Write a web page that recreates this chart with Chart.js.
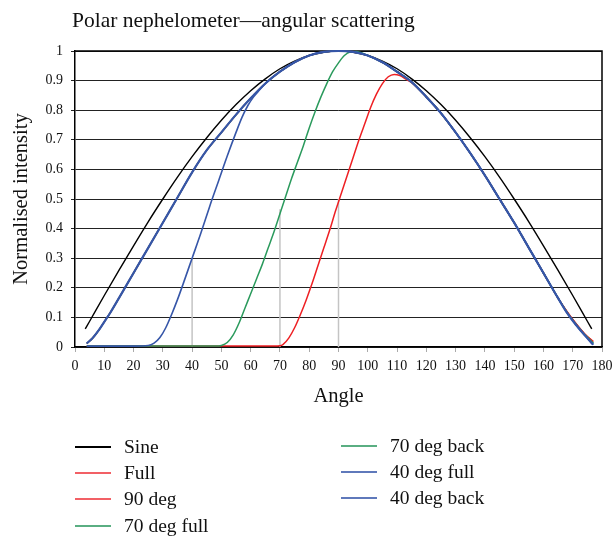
<!DOCTYPE html>
<html><head><meta charset="utf-8">
<script src="https://cdn.jsdelivr.net/npm/chart.js@4.4.1/dist/chart.umd.min.js"></script>
<style>
html,body{margin:0;padding:0;background:#fff;}
#wrap{position:relative;width:613px;height:538px;overflow:hidden;font-family:'Liberation Serif','Times New Roman',serif;color:#111;}
#c{position:absolute;left:0;top:0;}
#title{position:absolute;left:72px;top:7px;font-size:21.5px;line-height:26px;white-space:nowrap;}
.lg{position:absolute;height:26px;display:flex;align-items:center;font-size:19.5px;white-space:nowrap;}
.lg .sw{display:inline-block;width:36px;height:2px;margin-right:13px;}
</style></head>
<body><div id="wrap"><canvas id="c" width="613" height="538"></canvas><div id="title">Polar nephelometer—angular scattering</div><div id="legend"></div></div>
<script>
// ---- data ----
const xTicks = [0,10,20,30,40,50,60,70,80,90,100,110,120,130,140,150,160,170,180];
const yTicks = [0,0.1,0.2,0.3,0.4,0.5,0.6,0.7,0.8,0.9,1];
const yTickLabels = ['0','0.1','0.2','0.3','0.4','0.5','0.6','0.7','0.8','0.9','1'];

const sineAngle = [3.5,5,10,15,20,25,30,35,40,45,50,55,60,65,70,75,80,85,90,95,100,105,110,115,120,125,130,135,140,145,150,155,160,165,170,175,176.5];
const sineValue = [0.061,0.087,0.174,0.259,0.342,0.423,0.5,0.574,0.643,0.707,0.766,0.819,0.866,0.906,0.94,0.966,0.985,0.996,1,0.996,0.985,0.966,0.94,0.906,0.866,0.819,0.766,0.707,0.643,0.574,0.5,0.423,0.342,0.259,0.174,0.087,0.061];

const commonAngle = [4,6,8,10,12,15,20,25,30,35,40,45,50,55,60,65,70,75,80,85,90,95,100,105,110,115,120,125,130,135,140,145,150,155,160,165,168,171,174,177];
const fullValue     = [0.012,0.03,0.055,0.085,0.115,0.165,0.25,0.335,0.42,0.505,0.59,0.665,0.725,0.785,0.84,0.89,0.93,0.962,0.985,0.997,1.0,0.997,0.985,0.962,0.93,0.895,0.845,0.79,0.725,0.655,0.58,0.5,0.42,0.335,0.25,0.165,0.12,0.08,0.045,0.018];
const deg70BackValue= [0.012,0.03,0.055,0.085,0.115,0.165,0.25,0.335,0.42,0.505,0.59,0.665,0.725,0.785,0.84,0.89,0.93,0.962,0.985,0.997,1.0,0.997,0.985,0.962,0.93,0.895,0.845,0.79,0.725,0.655,0.58,0.5,0.42,0.335,0.25,0.165,0.118,0.078,0.043,0.013];
const deg40BackValue= [0.012,0.03,0.055,0.085,0.115,0.165,0.25,0.335,0.42,0.505,0.59,0.665,0.725,0.785,0.84,0.89,0.93,0.962,0.985,0.997,1.0,0.997,0.985,0.962,0.93,0.895,0.845,0.79,0.725,0.655,0.58,0.5,0.42,0.335,0.25,0.165,0.116,0.076,0.041,0.008];

const deg90Angle = [4,40,68,70,71,73,75,77,79,81,83,85,87,89,91,93,95,97,99,101,103,105,107,109,111,113,115,120,125,130,135,140,145,150,155,160,165,168,171,174,177];
const deg90Value = [0.003,0.003,0.003,0.004,0.008,0.03,0.065,0.11,0.16,0.215,0.275,0.335,0.395,0.46,0.52,0.58,0.64,0.70,0.755,0.81,0.855,0.89,0.913,0.921,0.917,0.905,0.893,0.845,0.79,0.725,0.655,0.58,0.5,0.42,0.335,0.25,0.165,0.12,0.08,0.045,0.018];

const deg70FullAngle = [4,20,40,48,50,52,54,56,58,60,62,64,66,68,70,72,74,76,78,80,82,84,86,88,90,92,94,96,100,105,110,115,120,125,130,135,140,145,150,155,160,165,168,171,174,177];
const deg70FullValue = [0.003,0.003,0.003,0.003,0.005,0.015,0.04,0.08,0.13,0.18,0.23,0.28,0.335,0.39,0.45,0.51,0.57,0.625,0.68,0.74,0.795,0.845,0.89,0.93,0.96,0.985,0.997,0.998,0.985,0.962,0.93,0.895,0.845,0.79,0.725,0.655,0.58,0.5,0.42,0.335,0.25,0.165,0.118,0.078,0.043,0.013];

const deg40FullAngle = [4,10,20,25,27,29,31,33,35,37,40,43,46,49,52,55,57,59,61,63,65,70,75,80,85,90,95,100,105,110,115,120,125,130,135,140,145,150,155,160,165,168,171,174,177];
const deg40FullValue = [0.003,0.003,0.003,0.005,0.013,0.032,0.065,0.11,0.16,0.215,0.3,0.385,0.475,0.56,0.645,0.725,0.775,0.815,0.845,0.868,0.89,0.93,0.962,0.985,0.997,1.0,0.997,0.985,0.962,0.93,0.895,0.845,0.79,0.725,0.655,0.58,0.5,0.42,0.335,0.25,0.165,0.116,0.076,0.041,0.008];

const dropAngle = [40,70,90];
const dropHeight = [0.3,0.465,0.5];

const seriesNames = ['Sine','Full','90 deg','70 deg full','70 deg back','40 deg full','40 deg back'];
const seriesColors = ['#000000','#ee1f23','#ee1f23','#2a9a5c','#2a9a5c','#3656a8','#3656a8'];
const legendColors = ['#000000','#f26065','#f26065','#5aae82','#5aae82','#5f79bb','#5f79bb'];

// ---- build ----
const pts = (xs, ys) => xs.map((x,i)=>({x:x,y:ys[i]}));
const seriesData = [
  pts(sineAngle,sineValue),
  pts(commonAngle,fullValue),
  pts(deg90Angle,deg90Value),
  pts(deg70FullAngle,deg70FullValue),
  pts(commonAngle,deg70BackValue),
  pts(deg40FullAngle,deg40FullValue),
  pts(commonAngle,deg40BackValue)
];
const orders = [6,5,4,3,2,1,0];
const widths = [1.4,1.5,1.5,1.5,1.5,1.6,2.2];
const datasets = seriesData.map((d,i)=>({
  label: seriesNames[i], data: d, borderColor: seriesColors[i], backgroundColor: seriesColors[i],
  borderWidth: widths[i], pointRadius: 0, cubicInterpolationMode: 'monotone', fill:false, order: orders[i], clip: 4
}));
dropAngle.forEach((a,i)=>{
  datasets.push({label:'drop'+i, data:[{x:a,y:0},{x:a,y:dropHeight[i]}], borderColor:'#c4c4c4', borderWidth:1.5, pointRadius:0, order: 10+i});
});

const FONT = "'Liberation Serif','Times New Roman',serif";
const frame = {id:'frame', beforeDatasetsDraw(chart){
  const {ctx, chartArea:a} = chart; ctx.save(); ctx.strokeStyle='#000'; ctx.lineWidth=1.5;
  ctx.beginPath(); ctx.moveTo(a.left,a.top); ctx.lineTo(a.right,a.top); ctx.lineTo(a.right,a.bottom); ctx.stroke(); ctx.restore();
}};

new Chart(document.getElementById('c'), {
  type: 'line',
  data: { datasets },
  plugins: [frame],
  options: {
    responsive: false, animation: false, devicePixelRatio: 1,
    layout: { padding: { top: 51, right: 11, bottom: 126, left: 0 } },
    plugins: { legend: { display: false }, title: { display: false }, tooltip: { enabled: false } },
    scales: {
      x: {
        type: 'linear', min: 0, max: 180,
        afterFit: s => { s.height = 65; s.paddingRight = 0; s.paddingLeft = 0; },
        afterBuildTicks: s => { s.ticks = xTicks.map(v=>({value:v})); },
        ticks: { font: { family: FONT, size: 14 }, color: '#111', padding: 6, maxRotation: 0, autoSkip: false },
        grid: { display: true, drawOnChartArea: false, drawTicks: true, tickLength: 5, color: '#aaa' },
        border: { display: true, color: '#000', width: 1.5 },
        title: { display: true, text: 'Angle', font: { family: FONT, size: 20.5 }, color: '#111', padding: { top: 0, bottom: 3 } }
      },
      y: {
        min: 0, max: 1,
        afterFit: s => { s.width = 75; },
        afterBuildTicks: s => { s.ticks = yTicks.map(v=>({value:v})); },
        ticks: { font: { family: FONT, size: 14 }, color: '#111', padding: 8,
                 callback: (v, i) => yTickLabels[i] },
        grid: { color: '#222', lineWidth: 1, tickLength: 4 },
        border: { display: true, color: '#000', width: 1.5 },
        title: { display: true, text: 'Normalised intensity', font: { family: FONT, size: 20.5 }, color: '#111', padding: { top: 9, bottom: 0 } }
      }
    }
  }
});

// ---- legend (two columns, column-major) ----
const legendPos = [[75,447],[75,473],[75,499],[75,526],[341,446],[341,472],[341,498]];
const lg = document.getElementById('legend');
seriesNames.forEach((n,i)=>{
  const d = document.createElement('div'); d.className='lg';
  d.style.left = legendPos[i][0]+'px'; d.style.top = (legendPos[i][1]-13)+'px';
  const sw = document.createElement('span'); sw.className='sw'; sw.style.background = legendColors[i];
  const t = document.createElement('span'); t.textContent = n;
  d.appendChild(sw); d.appendChild(t); lg.appendChild(d);
});
</script>
</body></html>
